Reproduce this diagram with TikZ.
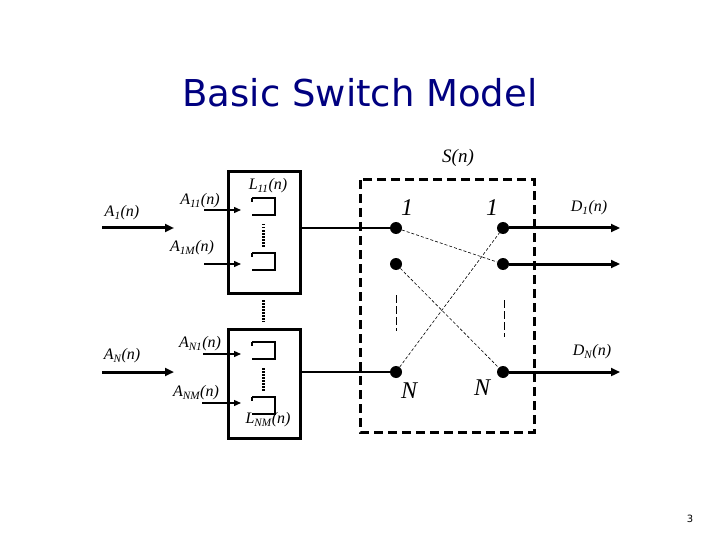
\documentclass[tikz,border=0pt]{standalone}
\usepackage{fontspec}
\setmainfont{Liberation Serif}
\newfontfamily\titlefont{DejaVu Sans}
\newcommand{\lbl}[2]{\textit{#1\textsubscript{#2}(n)}}
\definecolor{titleblue}{RGB}{0,0,128}
\begin{document}
\begin{tikzpicture}[x=1pt,y=-1pt,
  big/.style={line width=3pt,-{Triangle[length=9pt,width=8pt]}},
  small/.style={line width=1.3pt,-{Triangle[length=7pt,width=6pt]}},
  qbox/.style={line width=3pt},
  q/.style={line width=2.5pt},
  dots/.style={line width=3pt,dash pattern=on 1.5pt off 1.5pt},
  dot/.style={circle,fill=black,inner sep=0pt,minimum size=12pt},
  lab/.style={font=\fontsize{16}{18}\selectfont,inner sep=1pt},
  num/.style={font=\fontsize{24}{26}\selectfont\itshape,inner sep=1pt}]
\useasboundingbox (0,0) rectangle (720,540);
\usetikzlibrary{arrows.meta}
\node[font=\titlefont\fontsize{37}{40}\selectfont,text=titleblue] (title) at (360,93) {Basic Switch Model};
% input boxes
\draw[qbox] (228,172) rectangle (300,293);
\draw[qbox] (228,329) rectangle (300,438);
\foreach \y/\n in {198/q1,253/q2,342/q3,397/q4}{
  \draw[q] (252,\y) -- (275,\y) -- (275,\y+17) -- (252,\y+17);
  \draw[q] (252,\y) -- (252,\y+4);
  \coordinate (\n) at (250,\y+12);
}
\draw[dots] (263,224) -- (263,247);
\draw[dots] (263,300) -- (263,322);
\draw[dots] (263,368) -- (263,391);
% small arrows
\coordinate (s1) at (204,210); \coordinate (s2) at (204,264);
\coordinate (s3) at (203,354); \coordinate (s4) at (202,403);
\draw[small] (s1) -- (241,210);
\draw[small] (s2) -- (241,264);
\draw[small] (s3) -- (241,354);
\draw[small] (s4) -- (241,403);
% big arrows
\coordinate (b1s) at (102,228); \coordinate (b1e) at (174,228);
\coordinate (b2s) at (102,372); \coordinate (b2e) at (174,372);
\draw[big] (b1s) -- (b1e);
\draw[big] (b2s) -- (b2e);
% switch
\draw[line width=3pt,dash pattern=on 9pt off 5pt] (360,180) rectangle (534,432);
\node[dot] (l1) at (396,228) {};
\node[dot] (l2) at (396,264) {};
\node[dot] (lN) at (396,372) {};
\node[dot] (r1) at (503,228) {};
\node[dot] (r2) at (503,264) {};
\node[dot] (rN) at (503,372) {};
\draw[line width=1.5pt] (300,228) -- (l1);
\draw[line width=1.5pt] (300,372) -- (lN);
\coordinate (d1) at (620,228); \coordinate (d2) at (620,264); \coordinate (dN) at (620,372);
\draw[big] (r1) -- (d1);
\draw[big] (r2) -- (d2);
\draw[big] (rN) -- (dN);
\draw[dash pattern=on 3pt off 2pt,line width=0.6pt] (l1) -- (r2);
\draw[dash pattern=on 3pt off 2pt,line width=0.6pt] (l2) -- (rN);
\draw[dash pattern=on 3pt off 2pt,line width=0.6pt] (lN) -- (r1);
\draw[dash pattern=on 8pt off 3pt,line width=0.7pt] (396,295) -- (396,331);
\draw[dash pattern=on 8pt off 3pt,line width=0.7pt] (504,300) -- (504,337);
% labels
\node[num] (n1) at (407,208) {1};
\node[num] (n2) at (492,208) {1};
\node[num] (n3) at (409,391) {N};
\node[num] (n4) at (482,388) {N};
\node[lab,font=\fontsize{19}{21}\selectfont\itshape] (S) at (458,158) {S(n)};
\node[lab] (D1) at (589,208) {\lbl{D}{1}};
\node[lab] (DN) at (592,352) {\lbl{D}{N}};
\node[lab] (L11) at (268,186) {\lbl{L}{11}};
\node[lab] (LNM) at (268,420) {\lbl{L}{NM}};
\node[lab] (A1) at (122,213) {\lbl{A}{1}};
\node[lab] (AN) at (122,356) {\lbl{A}{N}};
\node[lab] (A11) at (200,201) {\lbl{A}{11}};
\node[lab] (A1M) at (192,248) {\lbl{A}{1M}};
\node[lab] (AN1) at (200,344) {\lbl{A}{N1}};
\node[lab] (ANM) at (196,393) {\lbl{A}{NM}};
\node[font=\titlefont\fontsize{10}{12}\selectfont] (pg) at (690,519) {3};
\end{tikzpicture}
\end{document}
